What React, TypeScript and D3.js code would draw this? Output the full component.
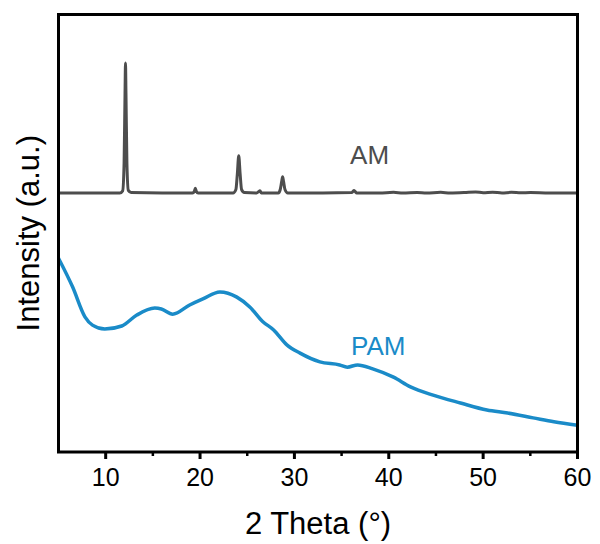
import React from "react";
import * as d3 from "d3";

const xTicks = [10, 20, 30, 40, 50, 60];
const xMinor = [15, 25, 35, 45, 55];

const amTheta = [5, 8, 11.5, 11.8, 11.95, 12.05, 12.1, 12.15, 12.25, 12.4, 12.7, 16, 19.2, 19.4, 19.5, 19.6, 19.8, 23.5, 23.8, 23.95, 24.1, 24.25, 24.4, 24.7, 26.0, 26.2, 26.35, 26.5, 28.3, 28.5, 28.65, 28.75, 28.85, 29.0, 29.3, 33, 36.1, 36.3, 36.45, 36.6, 39, 40.5, 41.5, 43, 44, 45.5, 46.5, 48, 49.2, 50, 51, 52, 53, 54, 55, 57, 60];
const amInt = [59.2, 59.2, 59.2, 59.7, 66, 82, 88.9, 82, 66, 59.8, 59.3, 59.2, 59.2, 59.6, 60.3, 59.6, 59.2, 59.2, 60, 63.5, 67.7, 63.5, 60, 59.3, 59.2, 59.5, 59.7, 59.2, 59.2, 60, 61.8, 62.9, 61.8, 60, 59.2, 59.2, 59.3, 59.8, 59.5, 59.2, 59.2, 59.35, 59.2, 59.3, 59.2, 59.35, 59.2, 59.3, 59.45, 59.25, 59.4, 59.2, 59.35, 59.25, 59.3, 59.2, 59.2];

const pamTheta = [5, 6.5, 7.8, 8.6, 9.9, 11.7, 13.3, 15.2, 15.9, 17.1, 18.9, 20.3, 22.1, 23.9, 25.3, 26.6, 27.8, 29.2, 30.6, 32.7, 34.8, 35.6, 36.7, 38.3, 40.5, 42.3, 44.7, 47.6, 50.4, 52.6, 55.3, 57.5, 60];
const pamInt = [44.3, 37.7, 30.9, 29.0, 28.1, 28.8, 31.3, 32.9, 32.7, 31.5, 33.6, 35.0, 36.6, 35.4, 33.1, 29.9, 27.9, 24.5, 22.6, 20.6, 19.9, 19.4, 19.9, 19.0, 17.1, 14.9, 13.0, 11.2, 9.6, 8.9, 7.8, 6.9, 6.1];

const W = 600, H = 544;
const L = 58.5, R = 577.5, T = 14.5, B = 452;

export default function App() {
  const x = d3.scaleLinear().domain([5, 60]).range([L, R]);
  const y = d3.scaleLinear().domain([0, 100]).range([B, T]);
  const line = d3
    .line<[number, number]>()
    .x((d) => x(d[0]))
    .y((d) => y(d[1]))
    .curve(d3.curveMonotoneX);
  const am = amTheta.map((t, i) => [t, amInt[i]] as [number, number]);
  const pam = pamTheta.map((t, i) => [t, pamInt[i]] as [number, number]);
  const font = "'Liberation Sans', Arial, sans-serif";
  return (
    <svg width={W} height={H} style={{ position: "absolute", left: 0, top: 0 }}>
      <rect width={W} height={H} fill="#fff" />
      <defs>
        <clipPath id="clip">
          <rect x={L} y={T} width={R - L} height={B - T} />
        </clipPath>
      </defs>
      <g clipPath="url(#clip)">
        <path d={line(pam) || ""} fill="none" stroke="#1a8bc8" strokeWidth={3.5} strokeLinejoin="round" />
        <path d={line(am) || ""} fill="none" stroke="#4d4d4d" strokeWidth={3} strokeLinejoin="round" />
      </g>
      <rect x={L} y={T} width={R - L} height={B - T} fill="none" stroke="#000" strokeWidth={3} />
      {xTicks.map((t) => (
        <g key={t}>
          <line x1={x(t)} x2={x(t)} y1={B} y2={B + 7} stroke="#000" strokeWidth={3} />
          <text x={x(t)} y={B + 34} textAnchor="middle" fontFamily={font} fontSize={25} fill="#000">
            {t}
          </text>
        </g>
      ))}
      {xMinor.map((t) => (
        <line key={t} x1={x(t)} x2={x(t)} y1={B} y2={B + 4} stroke="#000" strokeWidth={2.5} />
      ))}
      <text x={(L + R) / 2} y={534} textAnchor="middle" fontFamily={font} fontSize={31} fill="#000">
        2 Theta (°)
      </text>
      <text
        transform={`translate(39, ${(T + B) / 2}) rotate(-90)`}
        textAnchor="middle"
        fontFamily={font}
        fontSize={31}
        fill="#000"
      >
        Intensity (a.u.)
      </text>
      <text x={x(35.9)} y={y(65.8)} fontFamily={font} fontSize={26} fill="#4d4d4d">
        AM
      </text>
      <text x={x(36.0)} y={y(22.2)} fontFamily={font} fontSize={26} fill="#1a8bc8">
        PAM
      </text>
    </svg>
  );
}
